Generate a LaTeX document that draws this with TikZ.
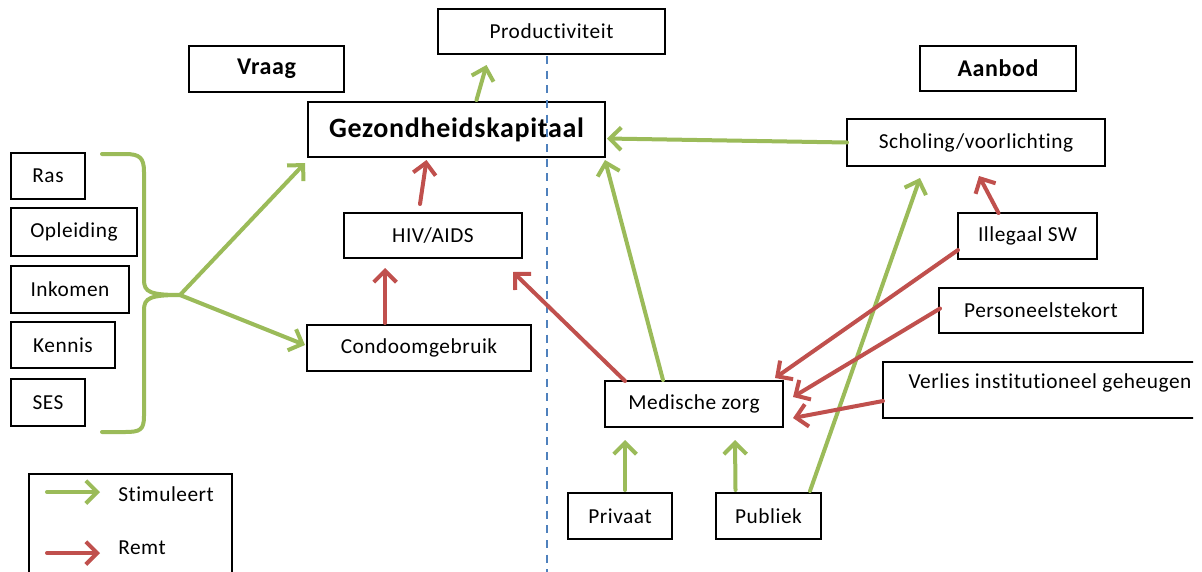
\documentclass[tikz,border=0pt]{standalone}
\usepackage{fontspec}
\setmainfont{Carlito}[Ligatures=NoCommon, LetterSpace=2.5]
\usetikzlibrary{arrows.meta}
\definecolor{stimgreen}{RGB}{155,187,89}
\definecolor{remred}{RGB}{192,80,77}
\definecolor{divblue}{RGB}{79,129,189}
\tikzset{
  box/.style={draw=black, line width=1.1pt, inner sep=0pt, outer sep=0pt, font=\fontsize{16}{19}\selectfont},
  boldbox/.style={box, font=\fontsize{18}{21}\selectfont\bfseries},
  bigbox/.style={box, font=\fontsize{21}{25}\selectfont\bfseries},
  conn/.style={line width=3pt, line cap=round, line join=round, -{Straight Barb[length=8.5pt,width=17pt,line width=3pt]}},
  stim/.style={conn, draw=stimgreen},
  remt/.style={conn, draw=remred},
  bracestyle/.style={draw=stimgreen, line width=3pt, line cap=round, line join=round},
  divider/.style={draw=divblue, line width=2pt, dash pattern=on 6pt off 5pt},
  legtext/.style={font=\fontsize{16}{19}\selectfont, anchor=west, inner sep=0pt}
}
\begin{document}
\begin{tikzpicture}[x=0.75pt, y=-0.75pt]
\useasboundingbox (0,0) rectangle (1202,571);
\fill[white] (0,0) rectangle (1202,571);

% boxes
\node[box, minimum width=227*0.75pt, minimum height=45*0.75pt] (prod) at (551.5,31.5) {Productiviteit};
\node[boldbox, minimum width=155*0.75pt, minimum height=46*0.75pt] (vraag) at (266.5,69) {Vraag};
\node[boldbox, minimum width=156*0.75pt, minimum height=45*0.75pt] (aanbod) at (998,68.5) {Aanbod};
\node[bigbox, minimum width=297*0.75pt, minimum height=55*0.75pt] (gez) at (456.5,129.5) {Gezondheidskapitaal};
\node[box, minimum width=258*0.75pt, minimum height=47*0.75pt] (schol) at (976,142.5) {Scholing/voorlichting};
\node[box, minimum width=139*0.75pt, minimum height=46*0.75pt] (illeg) at (1027.5,236) {Illegaal SW};
\node[box, minimum width=204*0.75pt, minimum height=45*0.75pt] (pers) at (1041,310.5) {Personeelstekort};
\begin{scope}
\clip (0,0) rectangle (1193,571);
\node[box, minimum width=334*0.75pt, minimum height=56*0.75pt, text depth=14pt] (verl) at (1050,390) {Verlies institutioneel geheugen};
\end{scope}
\node[box, minimum width=178*0.75pt, minimum height=45*0.75pt] (hiv) at (433,235.5) {HIV/AIDS};
\node[box, minimum width=224*0.75pt, minimum height=46*0.75pt] (cond) at (419,348) {Condoomgebruik};
\node[box, minimum width=178*0.75pt, minimum height=46*0.75pt] (med) at (694,404) {Medische zorg};
\node[box, minimum width=104*0.75pt, minimum height=46*0.75pt] (priv) at (620,516) {Privaat};
\node[box, minimum width=105*0.75pt, minimum height=46*0.75pt] (publ) at (768.5,516) {Publiek};

\node[box, minimum width=74*0.75pt, minimum height=46*0.75pt] (ras) at (48,176) {Ras};
\node[box, minimum width=126*0.75pt, minimum height=48*0.75pt] (opl) at (74,232) {Opleiding};
\node[box, minimum width=118*0.75pt, minimum height=47*0.75pt] (ink) at (70,289.5) {Inkomen};
\node[box, minimum width=104*0.75pt, minimum height=46*0.75pt] (ken) at (63,345) {Kennis};
\node[box, minimum width=74*0.75pt, minimum height=47*0.75pt] (ses) at (48,402.5) {SES};

% divider
\coordinate (divbot) at (547,575);
\draw[divider] ([shift={(-4.5,2)}]prod.south) -- (divbot);

% brace
\coordinate (brtip) at (180,295);
\draw[bracestyle] (102,154) -- (125,154) .. controls (140,154) and (144,158) .. (144,172) -- (144,280)
  .. controls (144,292) and (150,295) .. (brtip)
  .. controls (150,295) and (144,298) .. (144,310) -- (144,416)
  .. controls (144,430) and (140,432) .. (125,432) -- (102,432);

% connectors
\draw[stim] (brtip) -- ([shift={(-3,6)}]gez.south west);
\draw[stim] (brtip) -- ([shift={(-2,-3)}]cond.west);
\draw[stim] ([shift={(20,-2)}]gez.north) -- ([shift={(-65,11)}]prod.south);
\draw[stim] (schol.west) -- ([shift={(2,9)}]gez.east);
\draw[remt] ([shift={(-13,-9)}]hiv.north) -- ([shift={(-30,3)}]gez.south);
\draw[remt] ([shift={(-34,-2)}]cond.north) -- ([shift={(-48,10)}]hiv.south);
\draw[remt] ([shift={(20,0)}]med.north west) -- ([shift={(-9,14)}]hiv.south east);
\draw[stim] ([shift={(-31,-1)}]med.north) -- ([shift={(0,3)}]gez.south east);
\draw[stim] ([shift={(-11,-2)}]publ.north east) -- ([shift={(-56,12)}]schol.south);
\draw[remt] ([shift={(-29,0)}]illeg.north) -- ([shift={(3,10)}]schol.south);
\draw[remt] ([shift={(0,14)}]illeg.west) -- ([shift={(-8,-3)}]med.north east);
\draw[remt] ([shift={(1,-2)}]pers.west) -- ([shift={(10,-7)}]med.east);
\draw[remt] ([shift={(0,11)}]verl.west) -- ([shift={(10,14)}]med.east);
\draw[stim] ([shift={(5,-3)}]priv.north) -- ([shift={(20,13)}]med.south west);
\draw[stim] ([shift={(-33,-3)}]publ.north) -- ([shift={(-48,13)}]med.south east);

% legend
\draw[line width=1.1pt] (29,590) -- (29,474) -- (232,474) -- (232,590);
\coordinate (lg1a) at (47,492);
\coordinate (lg1b) at (100,492);
\coordinate (lg2a) at (47,553);
\coordinate (lg2b) at (100,553);
\draw[stim] (lg1a) -- (lg1b);
\draw[remt] (lg2a) -- (lg2b);
\node[legtext] (lstim) at (118,494) {Stimuleert};
\node[legtext] (lremt) at (118,548) {Remt};
\end{tikzpicture}
\end{document}
